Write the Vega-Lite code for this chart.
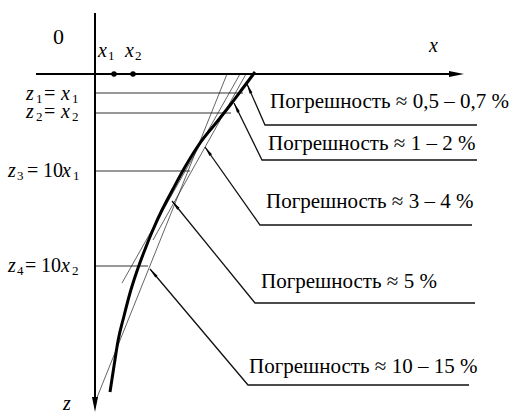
{
  "$schema": "https://vega.github.io/schema/vega-lite/v6.json",
  "width": 514,
  "height": 414,
  "autosize": {"type": "fit", "contains": "padding"},
  "padding": 0,
  "background": "white",
  "config": {"view": {"stroke": null}, "text": {"font": "'Liberation Serif', 'DejaVu Serif', serif"}},
  "datasets": {
    "axes": [
      {"id": "x", "i": 0, "x": 36, "z": 74},
      {"id": "x", "i": 1, "x": 458, "z": 74},
      {"id": "z", "i": 0, "x": 95, "z": 13},
      {"id": "z", "i": 1, "x": 95, "z": 405}
    ],
    "axisArrows": [
      {"x": 456.5, "z": 74, "angle": 90},
      {"x": 95, "z": 404.5, "angle": 180}
    ],
    "levels": [
      {"x": 95, "x2": 243, "z": 93},
      {"x": 95, "x2": 231, "z": 113},
      {"x": 95, "x2": 190, "z": 171},
      {"x": 95, "x2": 148, "z": 266}
    ],
    "chords": [
      {"x": 227, "z": 74, "x2": 96, "z2": 400},
      {"x": 240, "z": 74, "x2": 122, "z2": 283},
      {"x": 246, "z": 74, "x2": 153, "z2": 240}
    ],
    "curve": [
      {"i": 0, "x": 255, "z": 72},
      {"i": 1, "x": 243, "z": 88},
      {"i": 2, "x": 231, "z": 104},
      {"i": 3, "x": 216, "z": 123},
      {"i": 4, "x": 200, "z": 143},
      {"i": 5, "x": 185, "z": 167},
      {"i": 6, "x": 173, "z": 189},
      {"i": 7, "x": 162, "z": 210},
      {"i": 8, "x": 152, "z": 232},
      {"i": 9, "x": 144, "z": 252},
      {"i": 10, "x": 137, "z": 271},
      {"i": 11, "x": 130, "z": 293},
      {"i": 12, "x": 124, "z": 316},
      {"i": 13, "x": 118, "z": 341},
      {"i": 14, "x": 114, "z": 366},
      {"i": 15, "x": 110, "z": 392}
    ],
    "leaders": [
      {"id": 1, "i": 0, "x": 247, "z": 84},
      {"id": 1, "i": 1, "x": 265, "z": 125},
      {"id": 1, "i": 2, "x": 477, "z": 125},
      {"id": 2, "i": 0, "x": 234, "z": 103},
      {"id": 2, "i": 1, "x": 262, "z": 160},
      {"id": 2, "i": 2, "x": 477, "z": 160},
      {"id": 3, "i": 0, "x": 205, "z": 147},
      {"id": 3, "i": 1, "x": 260, "z": 225},
      {"id": 3, "i": 2, "x": 472, "z": 225},
      {"id": 4, "i": 0, "x": 172, "z": 201},
      {"id": 4, "i": 1, "x": 255, "z": 303},
      {"id": 4, "i": 2, "x": 475, "z": 303},
      {"id": 5, "i": 0, "x": 150, "z": 269},
      {"id": 5, "i": 1, "x": 248, "z": 385},
      {"id": 5, "i": 2, "x": 469, "z": 385}
    ],
    "leaderArrows": [
      {"x": 249, "z": 88.6, "angle": 336},
      {"x": 236.2, "z": 107.5, "angle": 334},
      {"x": 207.9, "z": 151.1, "angle": 325},
      {"x": 175.2, "z": 204.9, "angle": 321},
      {"x": 153.2, "z": 272.8, "angle": 320}
    ],
    "dots": [
      {"x": 114, "z": 74},
      {"x": 133, "z": 74}
    ],
    "labels": [
      {"x": 270, "z": 108, "text": "Погрешность ≈ 0,5 – 0,7 %"},
      {"x": 268, "z": 150, "text": "Погрешность ≈ 1 – 2 %"},
      {"x": 266, "z": 208, "text": "Погрешность ≈ 3 – 4 %"},
      {"x": 261, "z": 288, "text": "Погрешность ≈ 5 %"},
      {"x": 249, "z": 373, "text": "Погрешность ≈ 10 – 15 %"}
    ],
    "italic": [
      {"x": 26, "z": 100, "text": "z"},
      {"x": 61, "z": 100, "text": "x"},
      {"x": 26, "z": 118, "text": "z"},
      {"x": 61, "z": 118, "text": "x"},
      {"x": 8, "z": 177, "text": "z"},
      {"x": 62, "z": 177, "text": "x"},
      {"x": 8, "z": 272, "text": "z"},
      {"x": 61, "z": 272, "text": "x"},
      {"x": 63, "z": 410, "text": "z"},
      {"x": 98, "z": 57, "text": "x"},
      {"x": 125, "z": 57, "text": "x"},
      {"x": 429, "z": 52, "text": "x"}
    ],
    "roman": [
      {"x": 44, "z": 100, "text": "="},
      {"x": 44, "z": 118, "text": "="},
      {"x": 27, "z": 177, "text": "="},
      {"x": 25, "z": 272, "text": "="},
      {"x": 43, "z": 177, "text": "10"},
      {"x": 41, "z": 272, "text": "10"}
    ],
    "origin": [
      {"x": 53, "z": 44, "text": "0"}
    ],
    "subs": [
      {"x": 36, "z": 103, "text": "1"},
      {"x": 72, "z": 103, "text": "1"},
      {"x": 36, "z": 121, "text": "2"},
      {"x": 72, "z": 121, "text": "2"},
      {"x": 17, "z": 180, "text": "3"},
      {"x": 73, "z": 180, "text": "1"},
      {"x": 17, "z": 275, "text": "4"},
      {"x": 72, "z": 275, "text": "2"},
      {"x": 108, "z": 60, "text": "1"},
      {"x": 135, "z": 60, "text": "2"}
    ]
  },
  "encoding": {
    "x": {"field": "x", "type": "quantitative", "scale": {"domain": [0, 514], "nice": false, "zero": false}, "axis": null},
    "y": {"field": "z", "type": "quantitative", "scale": {"domain": [0, 414], "nice": false, "zero": false, "reverse": true}, "axis": null}
  },
  "layer": [
    {
      "data": {"name": "levels"},
      "mark": {"type": "rule", "stroke": "#333333", "strokeWidth": 1},
      "encoding": {"x2": {"field": "x2"}}
    },
    {
      "data": {"name": "chords"},
      "mark": {"type": "rule", "stroke": "#222222", "strokeWidth": 0.7},
      "encoding": {"x2": {"field": "x2"}, "y2": {"field": "z2"}}
    },
    {
      "data": {"name": "axes"},
      "mark": {"type": "line", "stroke": "black", "strokeWidth": 2},
      "encoding": {"detail": {"field": "id"}, "order": {"field": "i"}}
    },
    {
      "data": {"name": "axisArrows"},
      "mark": {"type": "point", "shape": "M0,-1L0.4,1L-0.4,1Z", "filled": true, "color": "black", "size": 225, "opacity": 1},
      "encoding": {"angle": {"field": "angle", "type": "quantitative", "scale": null}}
    },
    {
      "data": {"name": "curve"},
      "mark": {"type": "line", "stroke": "black", "strokeWidth": 3, "interpolate": "monotone", "strokeCap": "butt"},
      "encoding": {"order": {"field": "i"}}
    },
    {
      "data": {"name": "leaders"},
      "mark": {"type": "line", "stroke": "#111111", "strokeWidth": 1.3},
      "encoding": {"detail": {"field": "id"}, "order": {"field": "i"}}
    },
    {
      "data": {"name": "leaderArrows"},
      "mark": {"type": "point", "shape": "M0,-1L0.3,1L-0.3,1Z", "filled": true, "color": "black", "size": 100, "opacity": 1},
      "encoding": {"angle": {"field": "angle", "type": "quantitative", "scale": null}}
    },
    {
      "data": {"name": "dots"},
      "mark": {"type": "circle", "color": "black", "size": 30, "opacity": 1}
    },
    {
      "data": {"name": "labels"},
      "mark": {"type": "text", "fontSize": 21, "align": "left", "baseline": "alphabetic", "color": "black"},
      "encoding": {"text": {"field": "text"}}
    },
    {
      "data": {"name": "italic"},
      "mark": {"type": "text", "fontStyle": "italic", "fontSize": 20, "align": "left", "baseline": "alphabetic", "color": "black"},
      "encoding": {"text": {"field": "text"}}
    },
    {
      "data": {"name": "roman"},
      "mark": {"type": "text", "fontSize": 20, "align": "left", "baseline": "alphabetic", "color": "black"},
      "encoding": {"text": {"field": "text"}}
    },
    {
      "data": {"name": "origin"},
      "mark": {"type": "text", "fontSize": 22, "align": "left", "baseline": "alphabetic", "color": "black"},
      "encoding": {"text": {"field": "text"}}
    },
    {
      "data": {"name": "subs"},
      "mark": {"type": "text", "fontSize": 13, "align": "left", "baseline": "alphabetic", "color": "black"},
      "encoding": {"text": {"field": "text"}}
    }
  ]
}
